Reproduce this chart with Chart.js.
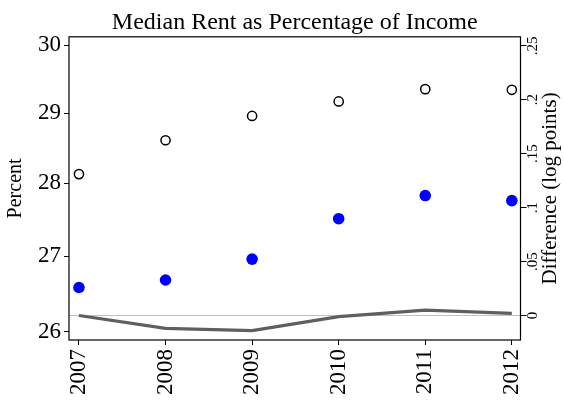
<!DOCTYPE html>
<html>
<head>
<meta charset="utf-8">
<script src="https://cdn.jsdelivr.net/npm/chart.js@4.4.1/dist/chart.umd.min.js"></script>
<style>
    html, body { margin: 0; padding: 0; background: #fff; }
    #wrap { width: 564px; height: 403px; }
</style>
</head>
<body>
<div id="wrap"><canvas id="rentChart" width="564" height="403"></canvas></div>
<script>
// data
const years = [2007, 2008, 2009, 2010, 2011, 2012];
const hollowSeries = [28.13, 28.61, 28.96, 29.17, 29.35, 29.34];   // left axis (log)
const blueSeries = [26.58, 26.68, 26.96, 27.51, 27.83, 27.76];     // left axis (log)
const diffSeries = [0.000, -0.012, -0.014, -0.001, 0.005, 0.002];  // right axis
const leftTicks = [26, 27, 28, 29, 30];
const rightTicks = [0, 0.05, 0.1, 0.15, 0.2, 0.25];
const rightTickLabels = ['0', '.05', '.1', '.15', '.2', '.25'];
const xRange = [2006.885, 2012.1];

const serif = "'Liberation Serif', 'DejaVu Serif', serif";
Chart.defaults.font.family = serif;
Chart.defaults.color = '#000';

// cadre du graphique + étiquettes de l'axe droit (texte tourné de bas en haut)
const framePlugin = {
    id: 'frame',
    afterDraw(chart) {
        const { ctx, chartArea } = chart;
        const y2 = chart.scales.y2;
        ctx.save();
        ctx.strokeStyle = '#000';
        ctx.lineWidth = 1.2;
        ctx.strokeRect(chartArea.left, chartArea.top, chartArea.right - chartArea.left, chartArea.bottom - chartArea.top);

        ctx.fillStyle = '#000';
        ctx.textAlign = 'center';
        ctx.textBaseline = 'middle';
        ctx.font = '15px ' + serif;
        rightTicks.forEach((v, i) => {
            const py = y2.getPixelForValue(v);
            ctx.save();
            ctx.translate(533, py);
            ctx.rotate(-Math.PI / 2);
            ctx.fillText(rightTickLabels[i], 0, 0);
            ctx.restore();
        });

        ctx.font = '21px ' + serif;
        ctx.translate(550, (chartArea.top + chartArea.bottom) / 2);
        ctx.rotate(-Math.PI / 2);
        ctx.fillText('Difference (log points)', 0, 0);
        ctx.restore();
    }
};

const ctx = document.getElementById('rentChart').getContext('2d');
const rentChart = new Chart(ctx, {
    type: 'scatter',
    data: {
        datasets: [
            {
                data: years.map((x, i) => ({ x: x, y: hollowSeries[i] })),
                yAxisID: 'y',
                pointRadius: 4.6,
                pointBorderWidth: 1.5,
                pointBorderColor: '#000',
                pointBackgroundColor: '#fff',
                order: 1
            },
            {
                data: years.map((x, i) => ({ x: x, y: blueSeries[i] })),
                yAxisID: 'y',
                pointRadius: 5.8,
                pointBorderWidth: 0,
                pointBackgroundColor: '#0000ff',
                order: 2
            },
            {
                data: years.map((x, i) => ({ x: x, y: diffSeries[i] })),
                yAxisID: 'y2',
                showLine: true,
                borderColor: '#5f5f5f',
                borderWidth: 3.2,
                pointRadius: 0,
                tension: 0,
                order: 3
            },
            {
                // ligne de référence à zéro sur l'axe droit
                data: xRange.map(x => ({ x: x, y: 0 })),
                yAxisID: 'y2',
                showLine: true,
                borderColor: '#c0c0c0',
                borderWidth: 1,
                pointRadius: 0,
                order: 4
            }
        ]
    },
    options: {
        responsive: false,
        animation: false,
        events: [],
        layout: { padding: 0 },
        plugins: {
            legend: { display: false },
            tooltip: { enabled: false },
            title: {
                display: true,
                text: 'Median Rent as Percentage of Income',
                fullSize: false,
                color: '#000',
                font: { family: serif, size: 24, weight: 'normal' },
                padding: { top: 8, bottom: 0 }
            }
        },
        scales: {
            x: {
                type: 'linear',
                position: 'bottom',
                min: xRange[0],
                max: xRange[1],
                afterBuildTicks: s => { s.ticks = years.map(v => ({ value: v })); },
                afterFit: s => { s.height = 63; },
                ticks: {
                    autoSkip: false,
                    minRotation: 90,
                    maxRotation: 90,
                    padding: 4,
                    color: '#000',
                    font: { size: 23 },
                    callback: v => String(v)
                },
                grid: { drawOnChartArea: false, tickLength: 5, tickColor: '#000', tickWidth: 1 },
                border: { display: false }
            },
            y: {
                type: 'logarithmic',
                position: 'left',
                min: 25.892,
                max: 30.128,
                afterBuildTicks: s => { s.ticks = leftTicks.map(v => ({ value: v })); },
                afterFit: s => { s.width = 69; },
                ticks: {
                    padding: 3,
                    color: '#000',
                    font: { size: 23 },
                    callback: v => String(v)
                },
                title: {
                    display: true,
                    text: 'Percent',
                    color: '#000',
                    font: { size: 20 },
                    padding: { top: 4, bottom: 0 }
                },
                grid: { drawOnChartArea: false, tickLength: 5, tickColor: '#000', tickWidth: 1 },
                border: { display: false }
            },
            y2: {
                type: 'linear',
                position: 'right',
                min: -0.0227,
                max: 0.2583,
                afterBuildTicks: s => { s.ticks = rightTicks.map(v => ({ value: v })); },
                afterFit: s => { s.width = 43.5; },
                ticks: { display: false },
                grid: { drawOnChartArea: false, tickLength: 6, tickColor: '#000', tickWidth: 1 },
                border: { display: false }
            }
        }
    },
    plugins: [framePlugin]
});
</script>
</body>
</html>
